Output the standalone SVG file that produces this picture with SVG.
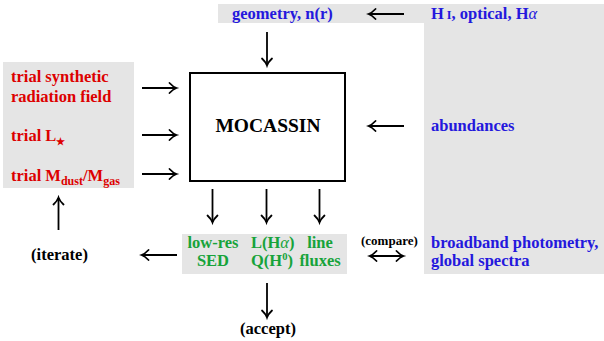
<svg xmlns="http://www.w3.org/2000/svg" width="604" height="341" viewBox="0 0 604 341">
<defs>
<style>
text{font-family:"Liberation Serif","DejaVu Serif",serif;font-weight:bold;font-size:16.5px}
.red{fill:#dd0000}
.blue{fill:#2418dd}
.green{fill:#17a33a}
.blk{fill:#000}
.mid{text-anchor:middle}
.bg{fill:#e5e5e5}
.arr{stroke:#000;stroke-width:1.8;fill:none;marker-end:url(#ah)}
.darr{stroke:#000;stroke-width:1.8;fill:none;marker-end:url(#ah);marker-start:url(#ahs)}
.al{font-style:italic;font-weight:normal}
</style>
<marker id="ah" markerUnits="userSpaceOnUse" markerWidth="14" markerHeight="14" viewBox="-9 -7 11 14" refX="0" refY="0" orient="auto">
<path d="M-6.5,-5 Q-3,-1.2 0.5,0 Q-3,1.2 -6.5,5" fill="none" stroke="#000" stroke-width="1.8" stroke-linecap="round"/>
</marker>
<marker id="ahs" markerUnits="userSpaceOnUse" markerWidth="14" markerHeight="14" viewBox="-9 -7 11 14" refX="0" refY="0" orient="auto-start-reverse">
<path d="M-6.5,-5 Q-3,-1.2 0.5,0 Q-3,1.2 -6.5,5" fill="none" stroke="#000" stroke-width="1.8" stroke-linecap="round"/>
</marker>
</defs>
<rect width="604" height="341" fill="#fff"/>

<g id="observations">
<path class="bg" d="M218,4 H604 V274 H424 V23 H218 Z"/>
<text class="blue" x="431" y="19">H<tspan font-size="12" dx="3">I</tspan>, optical, H<tspan class="al">α</tspan></text>
<text class="blue" x="431" y="131">abundances</text>
<text class="blue" x="431" y="248">broadband photometry,</text>
<text class="blue" x="431" y="266">global spectra</text>
</g>

<g id="geometry">
<text class="blue" x="232" y="19">geometry, n(r)</text>
</g>

<g id="trial">
<rect class="bg" x="3" y="62" width="131" height="126"/>
<text class="red" x="11" y="82">trial synthetic</text>
<text class="red" x="11" y="102">radiation field</text>
<text class="red" x="11" y="141">trial L<tspan font-size="10" dy="4">★</tspan></text>
<text class="red" x="11" y="181">trial M<tspan font-size="12" dy="4">dust</tspan><tspan dy="-4">/M</tspan><tspan font-size="12" dy="4">gas</tspan></text>
</g>

<g id="mocassin">
<rect x="190" y="73" width="155" height="108" fill="#fff" stroke="#000" stroke-width="2"/>
<text class="blk mid" x="268" y="132" style="font-size:19.5px">MOCASSIN</text>
</g>

<g id="outputs">
<rect class="bg" x="182" y="234" width="165" height="40"/>
<text class="green mid" x="213" y="248">low-res</text>
<text class="green mid" x="213" y="266">SED</text>
<text class="green" x="251" y="248">L(H<tspan class="al">α</tspan>)</text>
<text class="green" x="251" y="266">Q(H<tspan font-size="10.5" dy="-6">0</tspan><tspan dy="6">)</tspan></text>
<text class="green mid" x="320" y="248">line</text>
<text class="green mid" x="320" y="266">fluxes</text>
</g>

<g id="iterate">
<text class="blk mid" x="59.5" y="260">(iterate)</text>
</g>

<g id="accept">
<text class="blk mid" x="268" y="334">(accept)</text>
</g>

<g id="connectors">
<line class="arr" x1="267" y1="32" x2="267" y2="65"/>
<line class="arr" x1="404" y1="14" x2="369" y2="14"/>
<line class="arr" x1="404" y1="126" x2="369" y2="126"/>
<line class="arr" x1="142" y1="88" x2="176" y2="88"/>
<line class="arr" x1="142" y1="135" x2="176" y2="135"/>
<line class="arr" x1="142" y1="174" x2="176" y2="174"/>
<line class="arr" x1="212.5" y1="189" x2="212.5" y2="222"/>
<line class="arr" x1="266.5" y1="189" x2="266.5" y2="222"/>
<line class="arr" x1="319.5" y1="189" x2="319.5" y2="222"/>
<line class="arr" x1="177" y1="255" x2="142" y2="255"/>
<line class="arr" x1="58.5" y1="230" x2="58.5" y2="198"/>
<line class="arr" x1="267" y1="283" x2="267" y2="317"/>
<line class="darr" x1="370" y1="256" x2="403" y2="256"/>
<text class="blk" x="361" y="245" style="font-size:13px">(compare)</text>
</g>
</svg>
